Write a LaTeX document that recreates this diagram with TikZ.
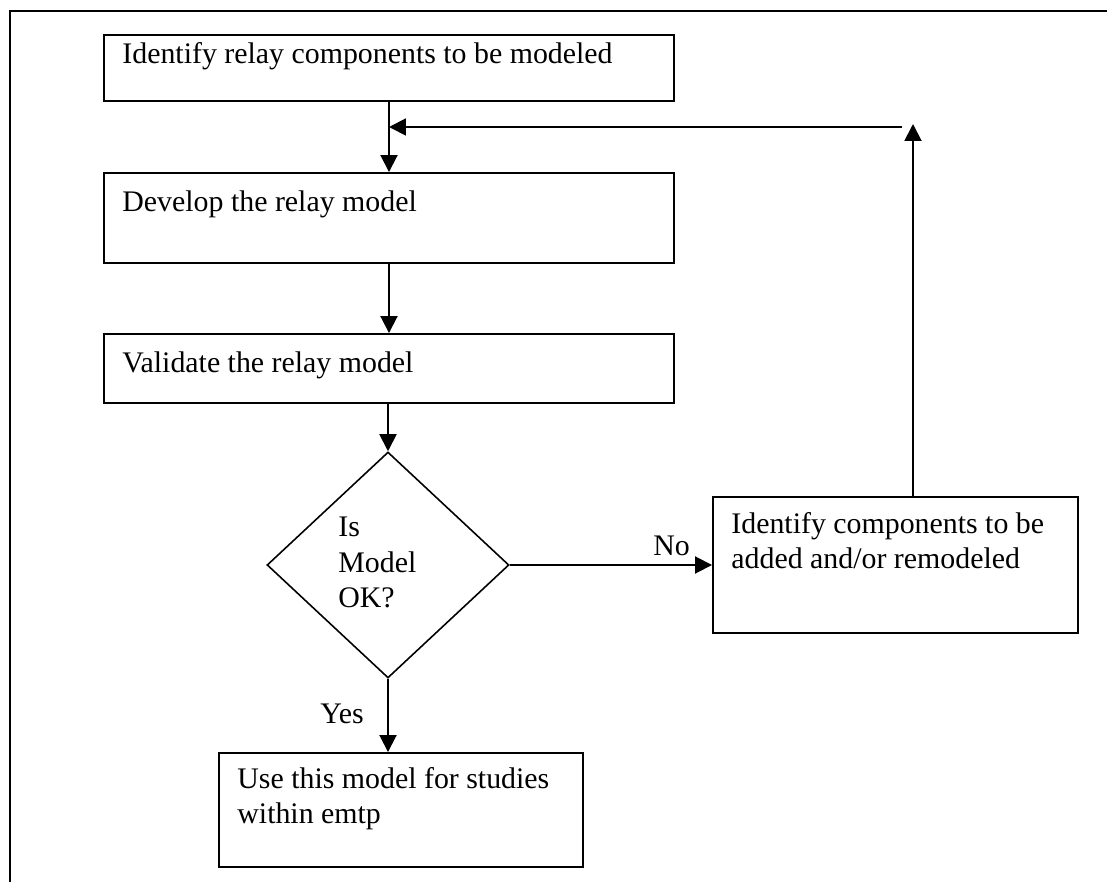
\documentclass[tikz,border=0pt]{standalone}
\usepackage{fontspec}
\setmainfont{Liberation Serif}
\usetikzlibrary{arrows.meta}
\usetikzlibrary{fit}
\usetikzlibrary{shapes.geometric}
\newcommand{\stageBox}[5]{%%
  %% The frame of the stage.
  \node[boxStyle,fit={(#2) (#3)}] (#1) {};
  %% Its text, down from the upper left corner.
  \node[textStyle] (#1Text) at ([shift={(19,#4)}]#1.north west) {#5};
}

\begin{document}
\begin{tikzpicture}[%%
  x=0.02cm,y=-0.02cm,%%
  frameStyle/.style={line width=1.1pt},%%
  boxStyle/.style={draw,line width=1.1pt,inner sep=0pt},%%
  decisionStyle/.style={draw,diamond,line width=0.9pt,inner sep=0pt,%%
    minimum width=4.84cm,minimum height=4.52cm},%%
  textStyle/.style={anchor=north west,inner sep=0pt,align=left,%%
    font=\fontsize{17}{20}\selectfont},%%
  arrowStyle/.style={-{Triangle[length=0.34cm,width=0.34cm]},line width=1.1pt}%%
]
%%
%%
\useasboundingbox (0,0) rectangle (1107,882);
%% The page frame, open at the right and at the bottom.
\draw[frameStyle] (10,882) -- (10,11) -- (1107,11);
%%
%% The stages of the main column.
\stageBox{identify}{104,35}{674,101}{8}{Identify relay components to be modeled}
\stageBox{develop}{104,173}{674,263}{18}{Develop the relay model}
\stageBox{validate}{104,334}{674,403}{18}{Validate the relay model}
%% The test.
\node[decisionStyle] (decision) at (388,565) {};
\node[textStyle] (decisionText) at (338,517) {Is\\Model\\OK?};
%% The two outcomes.
\stageBox{components}{713,497}{1078,633}{16}{Identify components to be\\added and/or remodeled}
\stageBox{useModel}{219,753}{583,867}{15}{Use this model for studies\\within emtp}
%%
%% The flow down the column.
\draw[arrowStyle] (identify) -- (develop);
\draw[arrowStyle] (develop) -- (validate);
\draw[arrowStyle] (validate.south -| decision.north) -- (decision.north);
\draw[arrowStyle] (decision.east) -- (components.west);
\node[textStyle,anchor=base west] (noLabel) at (653,555) {No};
\draw[arrowStyle] (decision.south) -- (decision.south |- useModel.north);
\node[textStyle,anchor=base west] (yesLabel) at (320,723) {Yes};
%%
%% The loop back to the model.
\coordinate (loopTop) at (913,124);
\coordinate (loopStart) at (902,127);
\draw[arrowStyle] (components.north -| loopTop) -- (loopTop);
\draw[arrowStyle] (loopStart) -- (loopStart -| identify.south);
\end{tikzpicture}
\end{document}
